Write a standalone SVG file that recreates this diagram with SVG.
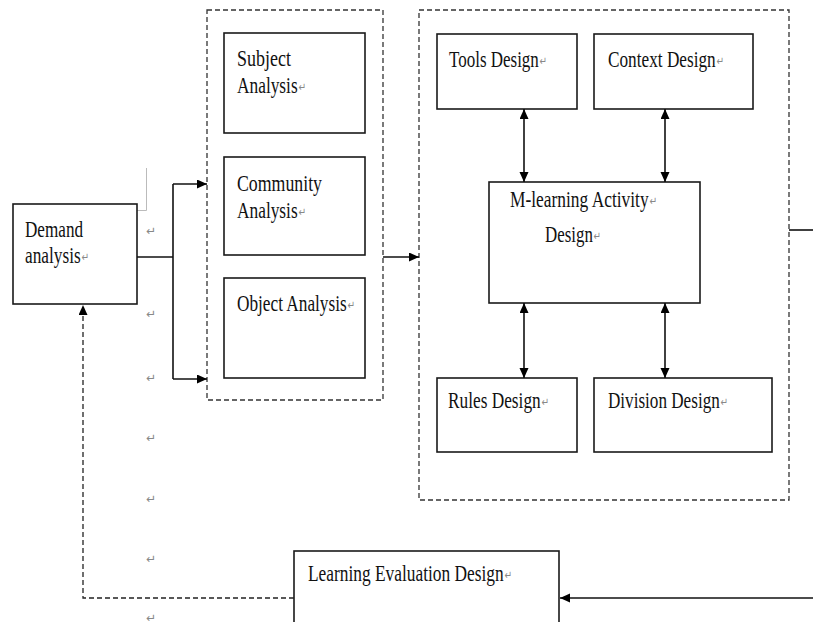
<svg xmlns="http://www.w3.org/2000/svg" width="813" height="622" viewBox="0 0 813 622">
  <style>
    .box { fill: #fff; stroke: #1a1a1a; stroke-width: 1.6; }
    .group { fill: none; stroke: #333; stroke-width: 1.3; stroke-dasharray: 5 3; }
    .lbl { font-family: "Liberation Serif", "Times New Roman", serif; font-size: 23px; fill: #111; }
    .pm { font-family: "DejaVu Sans", sans-serif; font-size: 12px; fill: #888; }
    .wire { fill: none; stroke: #111; stroke-width: 1.6; }
    .dash { fill: none; stroke: #222; stroke-width: 1.3; stroke-dasharray: 5 3; }
  </style>
  <defs>
    <marker id="head" markerUnits="userSpaceOnUse" markerWidth="11" markerHeight="10" refX="10" refY="4.5" orient="auto-start-reverse">
      <path d="M0,0 L10,4.5 L0,9 Z" fill="#000"/>
    </marker>
  </defs>
  <rect width="813" height="622" fill="#fff"/>

  <!-- outer dashed groupings -->
  <g id="analysis-group">
    <rect class="group" x="207" y="10" width="176" height="390"/>
  </g>
  <g id="design-group">
    <rect class="group" x="419" y="10" width="370" height="490"/>
  </g>

  <!-- stray gray rule beside the demand box -->
  <path d="M146.5,168 V210.5 H137" fill="none" stroke="#bbb" stroke-width="1"/>

  <!-- paragraph marks in the left margin -->
  <g id="margin-marks">
    <text class="pm" x="146" y="235">↵</text>
    <text class="pm" x="146" y="318">↵</text>
    <text class="pm" x="146" y="382">↵</text>
    <text class="pm" x="146" y="442">↵</text>
    <text class="pm" x="146" y="503">↵</text>
    <text class="pm" x="146" y="563">↵</text>
    <text class="pm" x="146" y="622">↵</text>
  </g>

  <g id="demand">
    <rect class="box" x="13" y="204" width="124" height="100"/>
    <text class="lbl" x="25" y="237" textLength="58" lengthAdjust="spacingAndGlyphs">Demand</text>
    <text class="lbl" x="25" y="263" textLength="64" lengthAdjust="spacingAndGlyphs">analysis<tspan class="pm" dx="1" dy="-2">↵</tspan></text>
  </g>

  <g id="subject">
    <rect class="box" x="224" y="33" width="141" height="100"/>
    <text class="lbl" x="237" y="66" textLength="54" lengthAdjust="spacingAndGlyphs">Subject</text>
    <text class="lbl" x="237" y="93" textLength="69" lengthAdjust="spacingAndGlyphs">Analysis<tspan class="pm" dx="1" dy="-2">↵</tspan></text>
  </g>

  <g id="community">
    <rect class="box" x="224" y="157" width="141" height="98"/>
    <text class="lbl" x="237" y="191" textLength="85" lengthAdjust="spacingAndGlyphs">Community</text>
    <text class="lbl" x="237" y="218" textLength="69" lengthAdjust="spacingAndGlyphs">Analysis<tspan class="pm" dx="1" dy="-2">↵</tspan></text>
  </g>

  <g id="object">
    <rect class="box" x="224" y="278" width="141" height="100"/>
    <text class="lbl" x="237" y="311" textLength="118" lengthAdjust="spacingAndGlyphs">Object Analysis<tspan class="pm" dx="1" dy="-2">↵</tspan></text>
  </g>

  <g id="tools">
    <rect class="box" x="437" y="34" width="140" height="75"/>
    <text class="lbl" x="449" y="67" textLength="98" lengthAdjust="spacingAndGlyphs">Tools Design<tspan class="pm" dx="1" dy="-2">↵</tspan></text>
  </g>

  <g id="context">
    <rect class="box" x="594" y="34" width="159" height="75"/>
    <text class="lbl" x="608" y="67" textLength="116" lengthAdjust="spacingAndGlyphs">Context Design<tspan class="pm" dx="1" dy="-2">↵</tspan></text>
  </g>

  <g id="activity">
    <rect class="box" x="489" y="182" width="211" height="121"/>
    <text class="lbl" x="510" y="207" textLength="147" lengthAdjust="spacingAndGlyphs">M-learning Activity<tspan class="pm" dx="1" dy="-2">↵</tspan></text>
    <text class="lbl" x="545" y="242" textLength="56" lengthAdjust="spacingAndGlyphs">Design<tspan class="pm" dx="1" dy="-2">↵</tspan></text>
  </g>

  <g id="rules">
    <rect class="box" x="437" y="378" width="140" height="74"/>
    <text class="lbl" x="448" y="408" textLength="101" lengthAdjust="spacingAndGlyphs">Rules Design<tspan class="pm" dx="1" dy="-2">↵</tspan></text>
  </g>

  <g id="division">
    <rect class="box" x="594" y="378" width="178" height="74"/>
    <text class="lbl" x="608" y="408" textLength="120" lengthAdjust="spacingAndGlyphs">Division Design<tspan class="pm" dx="1" dy="-2">↵</tspan></text>
  </g>

  <g id="evaluation">
    <rect class="box" x="294" y="551" width="265" height="80"/>
    <text class="lbl" x="308" y="581" textLength="204" lengthAdjust="spacingAndGlyphs">Learning Evaluation Design<tspan class="pm" dx="1" dy="-2">↵</tspan></text>
  </g>

  <g id="connectors">
    <!-- demand analysis fans out to the analysis boxes -->
    <path class="wire" d="M137,257 H173"/>
    <path class="wire" d="M173,184 V379"/>
    <path class="wire" d="M173,184 H207" marker-end="url(#head)"/>
    <path class="wire" d="M173,379 H207" marker-end="url(#head)"/>
    <!-- analysis group to design group -->
    <path class="wire" d="M383,257 H419" marker-end="url(#head)"/>
    <!-- two-way links around the activity design -->
    <path class="wire" d="M524,109 V182" marker-start="url(#head)" marker-end="url(#head)"/>
    <path class="wire" d="M665,109 V182" marker-start="url(#head)" marker-end="url(#head)"/>
    <path class="wire" d="M524,303 V378" marker-start="url(#head)" marker-end="url(#head)"/>
    <path class="wire" d="M665,303 V378" marker-start="url(#head)" marker-end="url(#head)"/>
    <!-- exit to the right and return into evaluation -->
    <path class="wire" d="M789,230 H813"/>
    <path class="wire" d="M813,598 H560" marker-end="url(#head)"/>
    <!-- feedback loop back to demand analysis -->
    <path class="dash" d="M294,598 H83 V305" marker-end="url(#head)"/>
  </g>
</svg>
